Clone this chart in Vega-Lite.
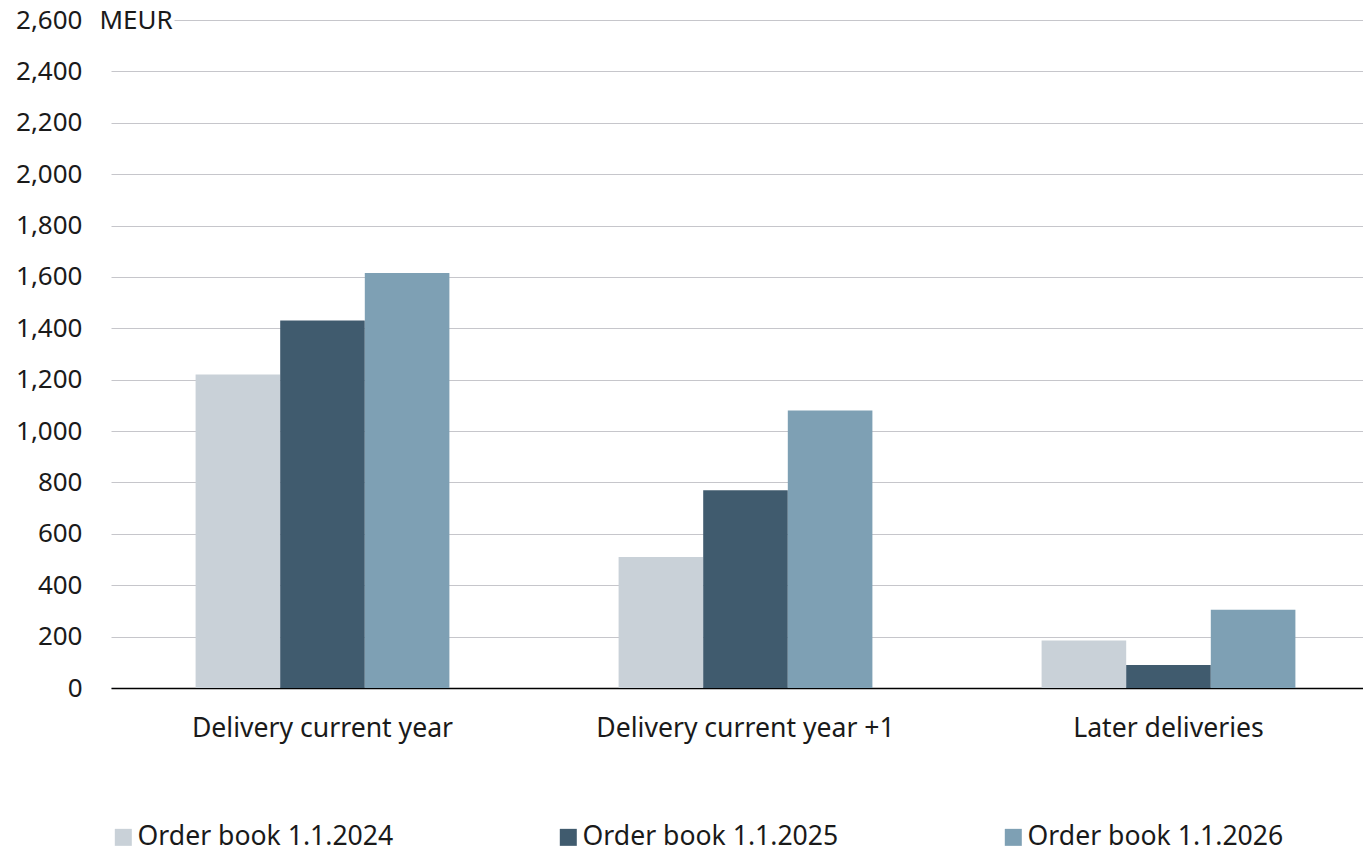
{
  "$schema": "https://vega.github.io/schema/vega-lite/v6.json",
  "autosize": {"type": "none"},
  "padding": {"left": 111, "top": 20, "right": 0, "bottom": 164},
  "width": 1252,
  "height": 668,
  "background": "white",
  "config": {
    "font": "Noto Sans",
    "view": {"stroke": null},
    "axis": {"labelFont": "Noto Sans", "labelColor": "#1a1a1a", "titleColor": "#1a1a1a", "titleFont": "Noto Sans"},
    "legend": {"labelFont": "Noto Sans"}
  },
  "data": {
    "values": [
      {"delivery": "Delivery current year", "book": "Order book 1.1.2024", "meur": 1220},
      {"delivery": "Delivery current year", "book": "Order book 1.1.2025", "meur": 1430},
      {"delivery": "Delivery current year", "book": "Order book 1.1.2026", "meur": 1615},
      {"delivery": "Delivery current year +1", "book": "Order book 1.1.2024", "meur": 510},
      {"delivery": "Delivery current year +1", "book": "Order book 1.1.2025", "meur": 770},
      {"delivery": "Delivery current year +1", "book": "Order book 1.1.2026", "meur": 1080},
      {"delivery": "Later deliveries", "book": "Order book 1.1.2024", "meur": 185},
      {"delivery": "Later deliveries", "book": "Order book 1.1.2025", "meur": 90},
      {"delivery": "Later deliveries", "book": "Order book 1.1.2026", "meur": 305}
    ]
  },
  "mark": {"type": "bar"},
  "encoding": {
    "x": {
      "field": "delivery",
      "type": "nominal",
      "sort": null,
      "scale": {"range": [0, 1269], "paddingInner": 0.4, "paddingOuter": 0.2},
      "axis": {
        "title": null,
        "labelAngle": 0,
        "labelFontSize": 26.6,
        "labelPadding": 27,
        "labelLimit": 500,
        "ticks": false,
        "domainColor": "#000000",
        "domainWidth": 1.5,
        "grid": false
      }
    },
    "xOffset": {"field": "book", "type": "nominal", "sort": null, "scale": {"paddingInner": 0, "paddingOuter": 0}},
    "y": {
      "field": "meur",
      "type": "quantitative",
      "scale": {"domain": [0, 2600], "nice": false},
      "axis": {
        "values": [0, 200, 400, 600, 800, 1000, 1200, 1400, 1600, 1800, 2000, 2200, 2400, 2600],
        "format": ",d",
        "labelFontSize": 26,
        "labelPadding": 29,
        "ticks": false,
        "domain": false,
        "grid": true,
        "gridColor": "#c6c6cb",
        "gridWidth": 1,
        "gridDash": {"condition": {"test": "datum.value === 2600", "value": [0, 63, 2000, 0]}, "value": []},
        "title": "MEUR",
        "titleFontSize": 26,
        "titleFontWeight": "normal",
        "titleAngle": 0,
        "titleAlign": "left",
        "titleBaseline": "middle",
        "titleX": -12,
        "titleY": 0
      }
    },
    "color": {
      "field": "book",
      "type": "nominal",
      "sort": null,
      "scale": {"range": ["#c9d1d8", "#405b6e", "#7ea0b4"]},
      "legend": {
        "title": null,
        "orient": "none",
        "direction": "horizontal",
        "legendX": -1,
        "legendY": 804,
        "symbolType": "square",
        "symbolSize": 289,
        "symbolStrokeWidth": 0,
        "labelFontSize": 26.6,
        "labelColor": "#1a1a1a",
        "labelOffset": 1,
        "labelLimit": 500,
        "columnPadding": 161
      }
    }
  }
}
